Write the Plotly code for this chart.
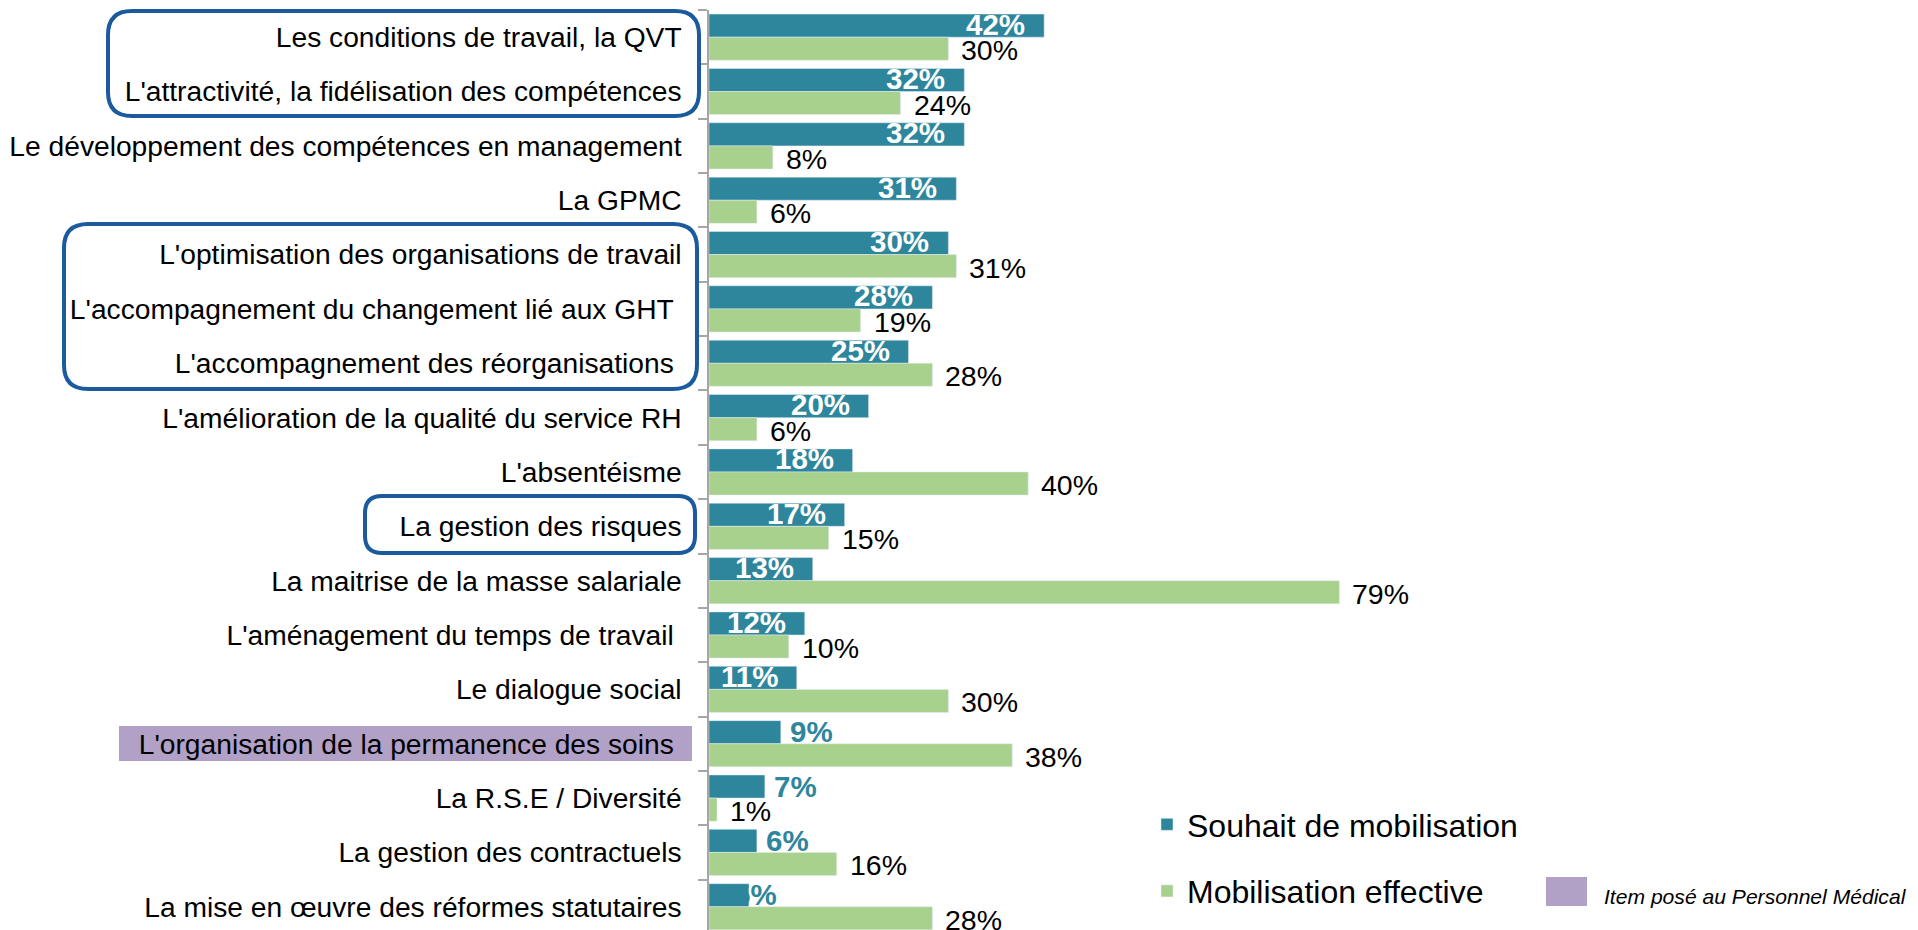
import plotly.graph_objects as go

# ---------------- data ----------------
categories = [
    "Les conditions de travail, la QVT",
    "L'attractivité, la fidélisation des compétences",
    "Le développement des compétences en management",
    "La GPMC",
    "L'optimisation des organisations de travail",
    "L'accompagnement du changement lié aux GHT\u00a0",
    "L'accompagnement des réorganisations\u00a0",
    "L'amélioration de la qualité du service RH",
    "L'absentéisme",
    "La gestion des risques",
    "La maitrise de la masse salariale",
    "L'aménagement du temps de travail\u00a0",
    "Le dialogue social",
    "L'organisation de la permanence des soins\u00a0",
    "La R.S.E / Diversité",
    "La gestion des contractuels",
    "La mise en œuvre des réformes statutaires",
]
souhait = [42, 32, 32, 31, 30, 28, 25, 20, 18, 17, 13, 12, 11, 9, 7, 6, 5]
effective = [30, 24, 8, 6, 31, 19, 28, 6, 40, 15, 79, 10, 30, 38, 1, 16, 28]
series_names = ["Souhait de mobilisation", "Mobilisation effective"]
note_text = "Item posé au Personnel Médical"

# ---------------- style ----------------
TEAL = "#2E869C"
GREEN = "#A8D18D"
PURPLE = "#B2A1C7"
BLUE = "#1B5A9C"
AXIS = "#A6A6A6"
FONT = "Liberation Sans, Arial, sans-serif"

OFF = 8  # page body margin offset
W, H = 1910, 922
ML, MT = 701, 2
PW, PH = W - ML, H - MT
PX_PER_PCT = 7.98
ROW = 54.35


def px_x(X):
    """reference page pixel -> paper x"""
    return (X - OFF - ML) / PW


def px_y(Y):
    """reference page pixel -> paper y"""
    return (H - (Y - OFF)) / PH


def rounded_box(x0, y0, x1, y1, r):
    pts = [
        ("M", (x0 + r, y0)), ("L", (x1 - r, y0)),
        ("Q", (x1, y0), (x1, y0 + r)), ("L", (x1, y1 - r)),
        ("Q", (x1, y1), (x1 - r, y1)), ("L", (x0 + r, y1)),
        ("Q", (x0, y1), (x0, y1 - r)), ("L", (x0, y0 + r)),
        ("Q", (x0, y0), (x0 + r, y0)),
    ]
    parts = []
    for seg in pts:
        cmd = seg[0]
        coords = " ".join(f"{px_x(p[0]):.5f},{px_y(p[1]):.5f}" for p in seg[1:])
        parts.append(f"{cmd} {coords}")
    return " ".join(parts) + " Z"


fig = go.Figure()
fig.add_trace(go.Bar(y=categories, x=souhait, orientation="h", name=series_names[0],
                     marker=dict(color=TEAL), legendgroup="a", hoverinfo="skip"))
fig.add_trace(go.Bar(y=categories, x=effective, orientation="h", name=series_names[1],
                     marker=dict(color=GREEN), legendgroup="b", hoverinfo="skip"))

annotations = []
for cat, v in zip(categories, souhait):
    if v >= 10:
        annotations.append(dict(x=v, y=cat, xref="x", yref="y", text=f"<b>{v}%</b>",
                                showarrow=False, xanchor="right", yanchor="middle",
                                xshift=-17, yshift=13,
                                font=dict(family=FONT, size=29.5, color="white")))
    else:
        shift = 7 if v > 5 else -17
        annotations.append(dict(x=v, y=cat, xref="x", yref="y", text=f"<b>{v}%</b>",
                                showarrow=False, xanchor="left", yanchor="middle",
                                xshift=shift, yshift=12,
                                font=dict(family=FONT, size=29.5, color=TEAL)))
for cat, v in zip(categories, effective):
    annotations.append(dict(x=v, y=cat, xref="x", yref="y", text=f"{v}%",
                            showarrow=False, xanchor="left", yanchor="middle",
                            xshift=11, yshift=-13,
                            font=dict(family=FONT, size=28.5, color="black")))

annotations.append(dict(x=px_x(1602), y=px_y(896), xref="paper", yref="paper",
                        text=f"<i>{note_text}</i>", showarrow=False,
                        xanchor="left", yanchor="middle",
                        font=dict(family=FONT, size=21.1, color="black")))

shapes = [
    dict(type="rect", xref="paper", yref="paper", layer="below",
         x0=px_x(119), x1=px_x(692), y0=px_y(761), y1=px_y(726),
         fillcolor=PURPLE, line=dict(width=0)),
    dict(type="rect", xref="paper", yref="paper",
         x0=px_x(1546), x1=px_x(1587), y0=px_y(906), y1=px_y(877),
         fillcolor=PURPLE, line=dict(width=0)),
    dict(type="path", xref="paper", yref="paper", path=rounded_box(108, 11, 699, 116, 24),
         line=dict(color=BLUE, width=4)),
    dict(type="path", xref="paper", yref="paper", path=rounded_box(64, 224, 697, 389, 24),
         line=dict(color=BLUE, width=4)),
    dict(type="path", xref="paper", yref="paper", path=rounded_box(365, 496, 695, 553, 17),
         line=dict(color=BLUE, width=4)),
]

fig.update_layout(
    width=W, height=H,
    margin=dict(l=ML, r=0, t=MT, b=0, pad=0),
    paper_bgcolor="white", plot_bgcolor="white",
    barmode="group", bargap=0.15, bargroupgap=0,
    font=dict(family=FONT, color="black"),
    xaxis=dict(range=[0, PW / PX_PER_PCT], visible=False, fixedrange=True),
    yaxis=dict(type="category", categoryorder="array", categoryarray=categories,
               range=[-0.5 + PH / ROW, -0.5],
               showline=True, linecolor=AXIS, linewidth=1.5,
               ticks="outside", ticklen=9, tickwidth=1.5, tickcolor=AXIS,
               tickson="boundaries", ticklabelstandoff=20,
               tickfont=dict(family=FONT, size=28.2, color="black"),
               showgrid=False, zeroline=False, fixedrange=True, automargin=False),
    legend=dict(x=px_x(1147), y=px_y(797), xanchor="left", yanchor="top",
                font=dict(family=FONT, size=32, color="black"),
                bgcolor="rgba(0,0,0,0)", traceorder="grouped", tracegroupgap=22),
    annotations=annotations,
    shapes=shapes,
)

fig.write_html("out.html")
